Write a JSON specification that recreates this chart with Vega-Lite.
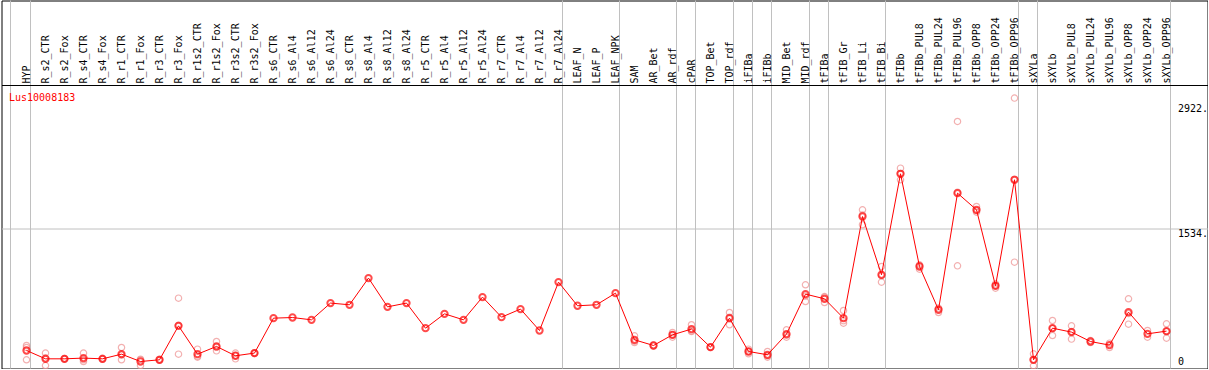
{
  "$schema": "https://vega.github.io/schema/vega-lite/v6.json",
  "width": 1206,
  "height": 368,
  "autosize": {"type": "none"},
  "padding": {"left": 1.5, "top": 0.5, "right": 0, "bottom": 0},
  "background": "white",
  "config": {
    "view": {"stroke": "black", "strokeWidth": 1},
    "font": "DejaVu Sans Mono",
    "axis": {"labelOverlap": false, "labelFlush": false, "labelBound": false, "labelSeparation": -100}
  },
  "datasets": {
    "cats": [
      {"i": 1, "cat": "HYP"}, {"i": 2, "cat": "R_s2_CTR"}, {"i": 3, "cat": "R_s2_Fox"}, {"i": 4, "cat": "R_s4_CTR"}, {"i": 5, "cat": "R_s4_Fox"},
      {"i": 6, "cat": "R_r1_CTR"}, {"i": 7, "cat": "R_r1_Fox"}, {"i": 8, "cat": "R_r3_CTR"}, {"i": 9, "cat": "R_r3_Fox"}, {"i": 10, "cat": "R_r1s2_CTR"},
      {"i": 11, "cat": "R_r1s2_Fox"}, {"i": 12, "cat": "R_r3s2_CTR"}, {"i": 13, "cat": "R_r3s2_Fox"}, {"i": 14, "cat": "R_s6_CTR"}, {"i": 15, "cat": "R_s6_Al4"},
      {"i": 16, "cat": "R_s6_Al12"}, {"i": 17, "cat": "R_s6_Al24"}, {"i": 18, "cat": "R_s8_CTR"}, {"i": 19, "cat": "R_s8_Al4"}, {"i": 20, "cat": "R_s8_Al12"},
      {"i": 21, "cat": "R_s8_Al24"}, {"i": 22, "cat": "R_r5_CTR"}, {"i": 23, "cat": "R_r5_Al4"}, {"i": 24, "cat": "R_r5_Al12"}, {"i": 25, "cat": "R_r5_Al24"},
      {"i": 26, "cat": "R_r7_CTR"}, {"i": 27, "cat": "R_r7_Al4"}, {"i": 28, "cat": "R_r7_Al12"}, {"i": 29, "cat": "R_r7_Al24"}, {"i": 30, "cat": "LEAF_N"},
      {"i": 31, "cat": "LEAF_P"}, {"i": 32, "cat": "LEAF_NPK"}, {"i": 33, "cat": "SAM"}, {"i": 34, "cat": "AR_Bet"}, {"i": 35, "cat": "AR_rdf"},
      {"i": 36, "cat": "cPAR"}, {"i": 37, "cat": "TOP_Bet"}, {"i": 38, "cat": "TOP_rdf"}, {"i": 39, "cat": "iFIBa"}, {"i": 40, "cat": "iFIBb"},
      {"i": 41, "cat": "MID_Bet"}, {"i": 42, "cat": "MID_rdf"}, {"i": 43, "cat": "tFIBa"}, {"i": 44, "cat": "tFIB_Gr"}, {"i": 45, "cat": "tFIB_Li"},
      {"i": 46, "cat": "tFIB_Bi"}, {"i": 47, "cat": "tFIBb"}, {"i": 48, "cat": "tFIBb_PUL8"}, {"i": 49, "cat": "tFIBb_PUL24"}, {"i": 50, "cat": "tFIBb_PUL96"},
      {"i": 51, "cat": "tFIBb_OPP8"}, {"i": 52, "cat": "tFIBb_OPP24"}, {"i": 53, "cat": "tFIBb_OPP96"}, {"i": 54, "cat": "sXYLa"}, {"i": 55, "cat": "sXYLb"},
      {"i": 56, "cat": "sXYLb_PUL8"}, {"i": 57, "cat": "sXYLb_PUL24"}, {"i": 58, "cat": "sXYLb_PUL96"}, {"i": 59, "cat": "sXYLb_OPP8"}, {"i": 60, "cat": "sXYLb_OPP24"},
      {"i": 61, "cat": "sXYLb_OPP96"}
    ],
    "seps": [{"cat": "HYP"}, {"cat": "R_r7_Al24"}, {"cat": "LEAF_NPK"}, {"cat": "AR_rdf"}, {"cat": "cPAR"}, {"cat": "TOP_rdf"}, {"cat": "iFIBa"}, {"cat": "iFIBb"}, {"cat": "MID_rdf"}, {"cat": "tFIBa"}, {"cat": "tFIB_Bi"}, {"cat": "tFIBb_OPP96"}, {"cat": "sXYLa"}, {"cat": "sXYLb_OPP96"}],
    "edge": [{"cat": "HYP"}],
    "means": [
      {"cat": "HYP", "value": 171}, {"cat": "R_s2_CTR", "value": 78}, {"cat": "R_s2_Fox", "value": 78}, {"cat": "R_s4_CTR", "value": 86}, {"cat": "R_s4_Fox", "value": 78},
      {"cat": "R_r1_CTR", "value": 130}, {"cat": "R_r1_Fox", "value": 48}, {"cat": "R_r3_CTR", "value": 67}, {"cat": "R_r3_Fox", "value": 446}, {"cat": "R_r1s2_CTR", "value": 130},
      {"cat": "R_r1s2_Fox", "value": 216}, {"cat": "R_r3s2_CTR", "value": 112}, {"cat": "R_r3s2_Fox", "value": 142}, {"cat": "R_s6_CTR", "value": 532}, {"cat": "R_s6_Al4", "value": 539},
      {"cat": "R_s6_Al12", "value": 513}, {"cat": "R_s6_Al24", "value": 700}, {"cat": "R_s8_CTR", "value": 681}, {"cat": "R_s8_Al4", "value": 979}, {"cat": "R_s8_Al12", "value": 658},
      {"cat": "R_s8_Al24", "value": 700}, {"cat": "R_r5_CTR", "value": 420}, {"cat": "R_r5_Al4", "value": 580}, {"cat": "R_r5_Al12", "value": 513}, {"cat": "R_r5_Al24", "value": 767},
      {"cat": "R_r7_CTR", "value": 543}, {"cat": "R_r7_Al4", "value": 633}, {"cat": "R_r7_Al12", "value": 394}, {"cat": "R_r7_Al24", "value": 934}, {"cat": "LEAF_N", "value": 670},
      {"cat": "LEAF_P", "value": 681}, {"cat": "LEAF_NPK", "value": 811}, {"cat": "SAM", "value": 290}, {"cat": "AR_Bet", "value": 227}, {"cat": "AR_rdf", "value": 346},
      {"cat": "cPAR", "value": 410}, {"cat": "TOP_Bet", "value": 208}, {"cat": "TOP_rdf", "value": 532}, {"cat": "iFIBa", "value": 160}, {"cat": "iFIBb", "value": 123},
      {"cat": "MID_Bet", "value": 354}, {"cat": "MID_rdf", "value": 800}, {"cat": "tFIBa", "value": 748}, {"cat": "tFIB_Gr", "value": 532}, {"cat": "tFIB_Li", "value": 1666},
      {"cat": "tFIB_Bi", "value": 1016}, {"cat": "tFIBb", "value": 2143}, {"cat": "tFIBb_PUL8", "value": 1108}, {"cat": "tFIBb_PUL24", "value": 625}, {"cat": "tFIBb_PUL96", "value": 1927},
      {"cat": "tFIBb_OPP8", "value": 1741}, {"cat": "tFIBb_OPP24", "value": 893}, {"cat": "tFIBb_OPP96", "value": 2076}, {"cat": "sXYLa", "value": 67}, {"cat": "sXYLb", "value": 420},
      {"cat": "sXYLb_PUL8", "value": 376}, {"cat": "sXYLb_PUL24", "value": 271}, {"cat": "sXYLb_PUL96", "value": 231}, {"cat": "sXYLb_OPP8", "value": 599}, {"cat": "sXYLb_OPP24", "value": 357},
      {"cat": "sXYLb_OPP96", "value": 387}
    ],
    "reps": [
      {"cat": "HYP", "value": 227}, {"cat": "HYP", "value": 204}, {"cat": "HYP", "value": 67},
      {"cat": "R_s2_CTR", "value": 142}, {"cat": "R_s2_CTR", "value": 3}, {"cat": "R_s2_CTR", "value": 89},
      {"cat": "R_s2_Fox", "value": 82}, {"cat": "R_s2_Fox", "value": 75},
      {"cat": "R_s4_CTR", "value": 142}, {"cat": "R_s4_CTR", "value": 48}, {"cat": "R_s4_CTR", "value": 68},
      {"cat": "R_s4_Fox", "value": 72}, {"cat": "R_s4_Fox", "value": 84},
      {"cat": "R_r1_CTR", "value": 204}, {"cat": "R_r1_CTR", "value": 67}, {"cat": "R_r1_CTR", "value": 119},
      {"cat": "R_r1_Fox", "value": 67}, {"cat": "R_r1_Fox", "value": 3}, {"cat": "R_r1_Fox", "value": 74},
      {"cat": "R_r3_CTR", "value": 62}, {"cat": "R_r3_CTR", "value": 72},
      {"cat": "R_r3_Fox", "value": 755}, {"cat": "R_r3_Fox", "value": 130}, {"cat": "R_r3_Fox", "value": 453},
      {"cat": "R_r1s2_CTR", "value": 186}, {"cat": "R_r1s2_CTR", "value": 97}, {"cat": "R_r1s2_CTR", "value": 107},
      {"cat": "R_r1s2_Fox", "value": 271}, {"cat": "R_r1s2_Fox", "value": 167}, {"cat": "R_r1s2_Fox", "value": 210},
      {"cat": "R_r3s2_CTR", "value": 142}, {"cat": "R_r3s2_CTR", "value": 78}, {"cat": "R_r3s2_CTR", "value": 116},
      {"cat": "R_r3s2_Fox", "value": 138}, {"cat": "R_r3s2_Fox", "value": 146},
      {"cat": "SAM", "value": 335}, {"cat": "SAM", "value": 260}, {"cat": "SAM", "value": 275},
      {"cat": "AR_Bet", "value": 222}, {"cat": "AR_Bet", "value": 232},
      {"cat": "AR_rdf", "value": 372}, {"cat": "AR_rdf", "value": 320}, {"cat": "AR_rdf", "value": 346},
      {"cat": "cPAR", "value": 458}, {"cat": "cPAR", "value": 383}, {"cat": "cPAR", "value": 390},
      {"cat": "TOP_Bet", "value": 205}, {"cat": "TOP_Bet", "value": 211},
      {"cat": "TOP_rdf", "value": 595}, {"cat": "TOP_rdf", "value": 458}, {"cat": "TOP_rdf", "value": 543},
      {"cat": "iFIBa", "value": 186}, {"cat": "iFIBa", "value": 134}, {"cat": "iFIBa", "value": 160},
      {"cat": "iFIBb", "value": 160}, {"cat": "iFIBb", "value": 97}, {"cat": "iFIBb", "value": 112},
      {"cat": "MID_Bet", "value": 402}, {"cat": "MID_Bet", "value": 320}, {"cat": "MID_Bet", "value": 340},
      {"cat": "MID_rdf", "value": 904}, {"cat": "MID_rdf", "value": 718}, {"cat": "MID_rdf", "value": 778},
      {"cat": "tFIBa", "value": 773}, {"cat": "tFIBa", "value": 706}, {"cat": "tFIBa", "value": 765},
      {"cat": "tFIB_Gr", "value": 617}, {"cat": "tFIB_Gr", "value": 476}, {"cat": "tFIB_Gr", "value": 503},
      {"cat": "tFIB_Li", "value": 1741}, {"cat": "tFIB_Li", "value": 1574}, {"cat": "tFIB_Li", "value": 1683},
      {"cat": "tFIB_Bi", "value": 1108}, {"cat": "tFIB_Bi", "value": 934}, {"cat": "tFIB_Bi", "value": 1006},
      {"cat": "tFIBb", "value": 2206}, {"cat": "tFIBb", "value": 2076}, {"cat": "tFIBb", "value": 2147},
      {"cat": "tFIBb_PUL8", "value": 1127}, {"cat": "tFIBb_PUL8", "value": 1079}, {"cat": "tFIBb_PUL8", "value": 1118},
      {"cat": "tFIBb_PUL24", "value": 644}, {"cat": "tFIBb_PUL24", "value": 595}, {"cat": "tFIBb_PUL24", "value": 636},
      {"cat": "tFIBb_PUL96", "value": 2727}, {"cat": "tFIBb_PUL96", "value": 1116}, {"cat": "tFIBb_PUL96", "value": 1938},
      {"cat": "tFIBb_OPP8", "value": 1778}, {"cat": "tFIBb_OPP8", "value": 1715}, {"cat": "tFIBb_OPP8", "value": 1730},
      {"cat": "tFIBb_OPP24", "value": 915}, {"cat": "tFIBb_OPP24", "value": 867}, {"cat": "tFIBb_OPP24", "value": 897},
      {"cat": "tFIBb_OPP96", "value": 2988}, {"cat": "tFIBb_OPP96", "value": 1157}, {"cat": "tFIBb_OPP96", "value": 2083},
      {"cat": "sXYLa", "value": 134}, {"cat": "sXYLa", "value": 0}, {"cat": "sXYLa", "value": 67},
      {"cat": "sXYLb", "value": 506}, {"cat": "sXYLb", "value": 338}, {"cat": "sXYLb", "value": 416},
      {"cat": "sXYLb_PUL8", "value": 446}, {"cat": "sXYLb_PUL8", "value": 298}, {"cat": "sXYLb_PUL8", "value": 384},
      {"cat": "sXYLb_PUL24", "value": 282}, {"cat": "sXYLb_PUL24", "value": 260},
      {"cat": "sXYLb_PUL96", "value": 253}, {"cat": "sXYLb_PUL96", "value": 204},
      {"cat": "sXYLb_OPP8", "value": 748}, {"cat": "sXYLb_OPP8", "value": 465}, {"cat": "sXYLb_OPP8", "value": 584},
      {"cat": "sXYLb_OPP24", "value": 394}, {"cat": "sXYLb_OPP24", "value": 320},
      {"cat": "sXYLb_OPP96", "value": 469}, {"cat": "sXYLb_OPP96", "value": 309}, {"cat": "sXYLb_OPP96", "value": 383}
    ]
  },
  "encoding": {
    "x": {
      "field": "i", "type": "quantitative",
      "scale": {"domain": [-0.3158, 63.1579], "nice": false, "zero": false},
      "axis": {
        "orient": "top", "offset": -84.5, "zindex": 1,
        "values": [1, 2, 3, 4, 5, 6, 7, 8, 9, 10, 11, 12, 13, 14, 15, 16, 17, 18, 19, 20, 21, 22, 23, 24, 25, 26, 27, 28, 29, 30, 31, 32, 33, 34, 35, 36, 37, 38, 39, 40, 41, 42, 43, 44, 45, 46, 47, 48, 49, 50, 51, 52, 53, 54, 55, 56, 57, 58, 59, 60, 61],
        "tickCount": 61,
        "labelExpr": "['HYP','R_s2_CTR','R_s2_Fox','R_s4_CTR','R_s4_Fox','R_r1_CTR','R_r1_Fox','R_r3_CTR','R_r3_Fox','R_r1s2_CTR','R_r1s2_Fox','R_r3s2_CTR','R_r3s2_Fox','R_s6_CTR','R_s6_Al4','R_s6_Al12','R_s6_Al24','R_s8_CTR','R_s8_Al4','R_s8_Al12','R_s8_Al24','R_r5_CTR','R_r5_Al4','R_r5_Al12','R_r5_Al24','R_r7_CTR','R_r7_Al4','R_r7_Al12','R_r7_Al24','LEAF_N','LEAF_P','LEAF_NPK','SAM','AR_Bet','AR_rdf','cPAR','TOP_Bet','TOP_rdf','iFIBa','iFIBb','MID_Bet','MID_rdf','tFIBa','tFIB_Gr','tFIB_Li','tFIB_Bi','tFIBb','tFIBb_PUL8','tFIBb_PUL24','tFIBb_PUL96','tFIBb_OPP8','tFIBb_OPP24','tFIBb_OPP96','sXYLa','sXYLb','sXYLb_PUL8','sXYLb_PUL24','sXYLb_PUL96','sXYLb_OPP8','sXYLb_OPP24','sXYLb_OPP96'][datum.value - 1]",
        "domain": true, "domainColor": "black", "domainWidth": 1,
        "ticks": false, "tickSize": 0, "grid": false,
        "labelAngle": -90, "labelPadding": 2, "labelFont": "DejaVu Sans Mono", "labelFontSize": 10, "labelColor": "black",
        "labelOverlap": false, "labelFlush": false, "labelBound": false, "labelLimit": 200, "labelSeparation": -100,
        "title": "Lus10008183", "titleColor": "#ff0000", "titleFont": "DejaVu Sans Mono", "titleFontSize": 10, "titleFontWeight": "normal",
        "titleAngle": 0, "titleAlign": "left", "titleBaseline": "top", "titleX": 7, "titleY": 7.2
      }
    }
  },
  "layer": [
    {
      "data": {"name": "seps"},
      "transform": [{"lookup": "cat", "from": {"data": {"name": "cats"}, "key": "cat", "fields": ["i"]}}],
      "mark": {"type": "rule", "color": "#c0c0c0", "strokeWidth": 1, "xOffset": 4},
      "encoding": {}
    },
    {
      "data": {"name": "edge"},
      "transform": [{"lookup": "cat", "from": {"data": {"name": "cats"}, "key": "cat", "fields": ["i"]}}],
      "mark": {"type": "rule", "color": "#c0c0c0", "strokeWidth": 1, "xOffset": -16},
      "encoding": {}
    },
    {
      "data": {"name": "reps"},
      "transform": [{"lookup": "cat", "from": {"data": {"name": "cats"}, "key": "cat", "fields": ["i"]}}],
      "mark": {"type": "point", "shape": "circle", "filled": false, "color": "#ee9090", "size": 40, "strokeWidth": 1.2},
      "encoding": {"y": {"field": "value", "type": "quantitative"}}
    },
    {
      "data": {"name": "means"},
      "transform": [{"lookup": "cat", "from": {"data": {"name": "cats"}, "key": "cat", "fields": ["i"]}}],
      "mark": {"type": "line", "color": "#ff0000", "strokeWidth": 1},
      "encoding": {"y": {"field": "value", "type": "quantitative"}}
    },
    {
      "data": {"name": "means"},
      "transform": [{"lookup": "cat", "from": {"data": {"name": "cats"}, "key": "cat", "fields": ["i"]}}],
      "mark": {"type": "point", "shape": "circle", "filled": false, "color": "#ff0000", "size": 40, "strokeWidth": 2},
      "encoding": {
        "y": {
          "field": "value", "type": "quantitative",
          "scale": {"domain": [-30, 4077], "nice": false, "zero": false},
          "axis": {
            "orient": "right", "offset": -30, "values": [0, 1534, 2922],
            "labelExpr": "datum.value == 0 ? '0' : datum.value + '.'",
            "domain": false, "ticks": false, "tickSize": 0, "labelPadding": 0,
            "labelAlign": "left", "labelFont": "DejaVu Sans Mono", "labelFontSize": 10, "labelColor": "black",
            "labelFlush": false,
            "labelBaseline": {"condition": {"test": "datum.value == 0", "value": "alphabetic"}, "value": "top"},
            "labelOffset": {"condition": {"test": "datum.value == 0", "value": -1}, "value": 0},
            "grid": true, "gridColor": "#c0c0c0", "gridWidth": 1,
            "gridOpacity": {"condition": {"test": "datum.value == 1534", "value": 1}, "value": 0},
            "title": null
          }
        }
      }
    }
  ]
}
